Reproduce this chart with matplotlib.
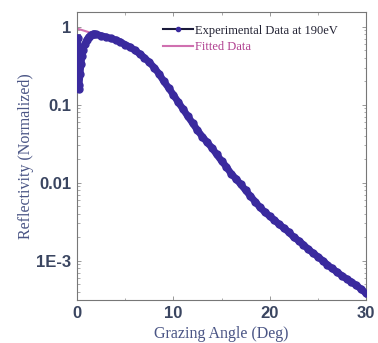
import matplotlib
matplotlib.use("Agg")
import matplotlib.pyplot as plt
from matplotlib.lines import Line2D
from matplotlib.ticker import FixedLocator, FixedFormatter, LogLocator, NullFormatter, MultipleLocator

exp_angle = [0.05, 0.1, 0.15, 0.2, 0.3, 0.4, 0.5, 0.6, 0.8, 1.0, 1.2, 1.4, 1.6, 1.8, 2.0,
             2.5, 3.0, 3.5, 4.0, 4.5, 5.0, 5.5, 6.0, 6.5, 7.0, 7.5, 8.0, 8.5, 9.0, 9.5,
             10.0, 10.5, 11.0, 11.5, 12.0, 12.5, 13.0, 13.5, 14.0, 14.5, 15.0, 15.5, 16.0,
             16.5, 17.0, 17.5, 18.0, 18.5, 19.0, 19.5, 20.0, 20.5, 21.0, 21.5, 22.0, 22.5,
             23.0, 23.5, 24.0, 24.5, 25.0, 25.5, 26.0, 26.5, 27.0, 27.5, 28.0, 28.5, 29.0,
             29.5, 30.0]
exp_refl = [0.72, 0.35, 0.16, 0.18, 0.25, 0.33, 0.42, 0.50, 0.60, 0.68, 0.74, 0.78, 0.80, 0.81, 0.80,
            0.77, 0.74, 0.71, 0.68, 0.64, 0.59, 0.55, 0.50, 0.45, 0.40, 0.35, 0.30, 0.25, 0.20, 0.165,
            0.134, 0.108, 0.088, 0.071, 0.058, 0.047, 0.039, 0.033, 0.028, 0.023, 0.019, 0.016, 0.013,
            0.0112, 0.0095, 0.0080, 0.0067, 0.0057, 0.0048, 0.0042, 0.0037, 0.0033, 0.0029, 0.0026,
            0.0023, 0.0020, 0.0018, 0.0016, 0.0014, 0.00125, 0.00112, 0.00100, 0.00088, 0.00079,
            0.00071, 0.00064, 0.00058, 0.00053, 0.00048, 0.00043, 0.00038]

# Fitted data (visible only near 0 deg; elsewhere under the experimental curve)
fit_angle = [0.0, 0.5, 1.0, 1.5, 2.0, 3.0, 5.0, 8.0, 10.0, 15.0, 20.0, 25.0, 30.0]
fit_refl = [0.95, 0.91, 0.87, 0.83, 0.80, 0.74, 0.59, 0.30, 0.134, 0.019, 0.0037, 0.00112, 0.00038]

xticks = [0, 10, 20, 30]
yticks = [1, 0.1, 0.01, 0.001]
ytick_labels = ["1", "0.1", "0.01", "1E-3"]

line_color = "#3a2a9e"
fit_color = "#d070b0"
label_color = "#4a5585"
tick_color = "#3a4560"

fig = plt.figure(figsize=(3.78, 3.43), dpi=100)
ax = fig.add_axes([0.204, 0.125, 0.764, 0.84])

ax.plot(fit_angle, fit_refl, color=fit_color, lw=1.5, zorder=2)
ax.plot(exp_angle, exp_refl, color=line_color, lw=5.0, marker="o", ms=5,
        mec=line_color, mfc=line_color, zorder=3)

ax.set_yscale("log")
ax.set_xlim(0, 30)
ax.set_ylim(3.1e-4, 1.55)

ax.yaxis.set_major_locator(FixedLocator(yticks))
ax.yaxis.set_major_formatter(FixedFormatter(ytick_labels))
ax.yaxis.set_minor_locator(LogLocator(base=10, subs=range(2, 10), numticks=20))
ax.yaxis.set_minor_formatter(NullFormatter())
ax.xaxis.set_major_locator(FixedLocator(xticks))
ax.xaxis.set_minor_locator(MultipleLocator(5))

ax.tick_params(which="both", direction="in", top=True, right=True, colors="#888888",
               labelcolor=tick_color)
ax.tick_params(which="major", length=3, width=0.6, labelsize=12, pad=4)
ax.tick_params(which="minor", length=1.8, width=0.5)
for lab in ax.get_xticklabels() + ax.get_yticklabels():
    lab.set_fontweight("bold")
    lab.set_family("Liberation Sans")

for s in ax.spines.values():
    s.set_color("#777777")
    s.set_linewidth(0.8)

ax.set_xlabel("Grazing Angle (Deg)", family="Liberation Serif", fontsize=11.5,
              color=label_color, labelpad=4)
ax.set_ylabel("Reflectivity (Normalized)", family="Liberation Serif", fontsize=11.5,
              color=label_color, labelpad=2)

handles = [Line2D([], [], color="#1a1a3a", lw=1.5, marker="o", ms=3, mfc=line_color, mec=line_color),
           Line2D([], [], color=fit_color, lw=1.5)]
leg = ax.legend(handles, ["Experimental Data at 190eV", "Fitted Data"], loc="upper left",
                bbox_to_anchor=(0.26, 0.995), frameon=False, handlelength=2.4, handletextpad=0.1,
                labelspacing=0.35, prop={"family": "Liberation Serif", "size": 9})
leg.get_texts()[0].set_color("#222233")
leg.get_texts()[1].set_color("#b04090")

fig.savefig("out.png", dpi=100)
